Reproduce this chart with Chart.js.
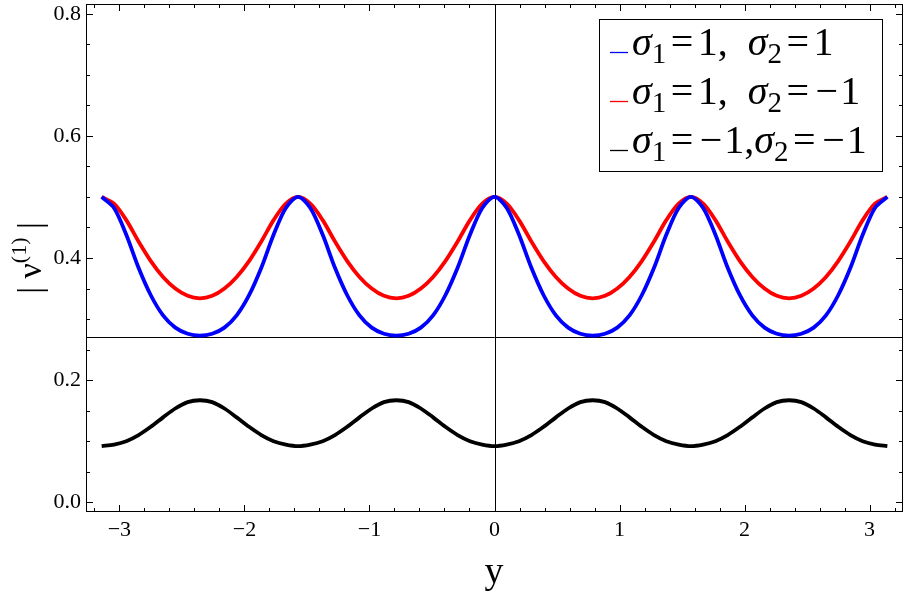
<!DOCTYPE html>
<html>
<head>
<meta charset="utf-8">
<script src="https://cdn.jsdelivr.net/npm/chart.js@4.4.0/dist/chart.umd.min.js"></script>
<style>
  body { margin: 0; background: #fff; }
  canvas { display: block; }
</style>
</head>
<body>
<canvas id="myChart" width="906" height="596"></canvas>
<script>
// sample points along y (steps of pi/32 from -pi to pi)
const yPoints = [-3.142, -3.043, -2.945, -2.847, -2.749, -2.651, -2.553, -2.454, -2.356, -2.258, -2.160, -2.062, -1.963, -1.865, -1.767, -1.669,
  -1.571, -1.473, -1.374, -1.276, -1.178, -1.080, -0.982, -0.884, -0.785, -0.687, -0.589, -0.491, -0.393, -0.295, -0.196, -0.098,
  0, 0.098, 0.196, 0.295, 0.393, 0.491, 0.589, 0.687, 0.785, 0.884, 0.982, 1.080, 1.178, 1.276, 1.374, 1.473,
  1.571, 1.669, 1.767, 1.865, 1.963, 2.062, 2.160, 2.258, 2.356, 2.454, 2.553, 2.651, 2.749, 2.847, 2.945, 3.043, 3.142];

// sigma1=1, sigma2=1 (blue)
const blueCurve = [0.5, 0.482, 0.438, 0.384, 0.339, 0.306, 0.286, 0.276, 0.273, 0.276, 0.286, 0.306, 0.339, 0.384, 0.438, 0.482,
  0.5, 0.482, 0.438, 0.384, 0.339, 0.306, 0.286, 0.276, 0.273, 0.276, 0.286, 0.306, 0.339, 0.384, 0.438, 0.482,
  0.5, 0.482, 0.438, 0.384, 0.339, 0.306, 0.286, 0.276, 0.273, 0.276, 0.286, 0.306, 0.339, 0.384, 0.438, 0.482,
  0.5, 0.482, 0.438, 0.384, 0.339, 0.306, 0.286, 0.276, 0.273, 0.276, 0.286, 0.306, 0.339, 0.384, 0.438, 0.482, 0.5];

// sigma1=1, sigma2=-1 (red)
const redCurve = [0.5, 0.489, 0.462, 0.427, 0.395, 0.369, 0.35, 0.338, 0.334, 0.338, 0.35, 0.369, 0.395, 0.427, 0.462, 0.489,
  0.5, 0.489, 0.462, 0.427, 0.395, 0.369, 0.35, 0.338, 0.334, 0.338, 0.35, 0.369, 0.395, 0.427, 0.462, 0.489,
  0.5, 0.489, 0.462, 0.427, 0.395, 0.369, 0.35, 0.338, 0.334, 0.338, 0.35, 0.369, 0.395, 0.427, 0.462, 0.489,
  0.5, 0.489, 0.462, 0.427, 0.395, 0.369, 0.35, 0.338, 0.334, 0.338, 0.35, 0.369, 0.395, 0.427, 0.462, 0.489, 0.5];

// sigma1=-1, sigma2=-1 (black)
const blackCurve = [0.092, 0.0945, 0.1, 0.11, 0.1235, 0.139, 0.1535, 0.164, 0.167, 0.164, 0.1535, 0.139, 0.1235, 0.11, 0.1, 0.0945,
  0.092, 0.0945, 0.1, 0.11, 0.1235, 0.139, 0.1535, 0.164, 0.167, 0.164, 0.1535, 0.139, 0.1235, 0.11, 0.1, 0.0945,
  0.092, 0.0945, 0.1, 0.11, 0.1235, 0.139, 0.1535, 0.164, 0.167, 0.164, 0.1535, 0.139, 0.1235, 0.11, 0.1, 0.0945,
  0.092, 0.0945, 0.1, 0.11, 0.1235, 0.139, 0.1535, 0.164, 0.167, 0.164, 0.1535, 0.139, 0.1235, 0.11, 0.1, 0.0945, 0.092];

const xTicks = [-3, -2, -1, 0, 1, 2, 3];
const yTicks = [0, 0.2, 0.4, 0.6, 0.8];
const axesOrigin = [0, 0.27];
const legendLabels = ['σ_1=1,  σ_2=1', 'σ_1=1,  σ_2=−1', 'σ_1=−1,σ_2=−1'];
const colors = ['#0000ff', '#ff0000', '#000000'];

const serif = '"Liberation Serif", "Times New Roman", serif';

function toPoints(values) {
  return yPoints.map((x, i) => ({x: x, y: values[i]}));
}

// draws "σ_1=1" style text with subscripts and padded operators, returns end x
function drawSubText(ctx, text, x, y, size) {
  let parts = text.split(/(_\d)/);
  parts.forEach((p) => {
    if (!p) return;
    if (p[0] === '_') {
      ctx.font = Math.round(size * 0.72) + 'px ' + serif;
      ctx.fillText(p[1], x, y + size * 0.2);
      x += ctx.measureText(p[1]).width;
    } else {
      for (const ch of p) {
        ctx.font = (ch === 'σ' ? 'italic ' : '') + size + 'px ' + serif;
        let pad = ch === '=' ? 4.5 : (ch === '−' ? 2 : 0);
        x += pad;
        ctx.fillText(ch, x, y);
        x += ctx.measureText(ch).width + pad;
      }
    }
  });
  return x;
}

const framePlugin = {
  id: 'framePlugin',
  beforeDraw(chart) {
    const ctx = chart.ctx;
    ctx.save();
    ctx.fillStyle = '#fff';
    ctx.fillRect(0, 0, chart.width, chart.height);
    ctx.restore();
  },
  beforeDatasetsDraw(chart) {
    const {ctx, chartArea: a, scales: {x, y}} = chart;
    ctx.save();
    ctx.strokeStyle = '#000';
    ctx.lineWidth = 1;
    const ox = Math.round(x.getPixelForValue(axesOrigin[0])) + 0.5;
    const oy = Math.round(y.getPixelForValue(axesOrigin[1])) + 0.5;
    ctx.beginPath();
    ctx.moveTo(ox, a.top); ctx.lineTo(ox, a.bottom);
    ctx.moveTo(a.left, oy); ctx.lineTo(a.right, oy);
    ctx.stroke();
    ctx.restore();
  },
  afterDatasetsDraw(chart) {
    const {ctx, chartArea: a, scales: {x, y}} = chart;
    ctx.save();
    ctx.strokeStyle = '#000';
    ctx.lineWidth = 1;
    ctx.strokeRect(a.left + 0.5, a.top + 0.5, a.right - a.left - 1, a.bottom - a.top - 1);

    // ticks on all four sides, pointing in
    ctx.beginPath();
    for (let i = -16; i <= 16; i++) {
      const px = Math.round(x.getPixelForValue(i * 0.2)) + 0.5;
      const len = i % 5 === 0 ? 7 : 4;
      ctx.moveTo(px, a.bottom); ctx.lineTo(px, a.bottom - len);
      ctx.moveTo(px, a.top); ctx.lineTo(px, a.top + len);
    }
    for (let i = 0; i <= 16; i++) {
      const py = Math.round(y.getPixelForValue(i * 0.05)) + 0.5;
      const len = i % 4 === 0 ? 7 : 4;
      ctx.moveTo(a.left, py); ctx.lineTo(a.left + len, py);
      ctx.moveTo(a.right, py); ctx.lineTo(a.right - len, py);
    }
    ctx.stroke();

    // legend box
    const bx = 599, by = 19, bw = 283, bh = 152;
    ctx.fillStyle = '#fff';
    ctx.fillRect(bx, by, bw, bh);
    ctx.strokeRect(bx + 0.5, by + 0.5, bw, bh);
    ctx.textBaseline = 'alphabetic';
    ctx.textAlign = 'left';
    legendLabels.forEach((label, i) => {
      const base = 55 + i * 49;
      ctx.strokeStyle = colors[i];
      ctx.lineWidth = 1.3;
      ctx.beginPath();
      ctx.moveTo(610, base - 2.5); ctx.lineTo(628, base - 2.5);
      ctx.stroke();
      ctx.fillStyle = '#000';
      drawSubText(ctx, label, 632, base, 40);
    });

    // axis titles
    ctx.fillStyle = '#000';
    ctx.font = '38px ' + serif;
    ctx.textAlign = 'center';
    ctx.fillText('y', 494, 583);

    ctx.translate(41, 258);
    ctx.rotate(-Math.PI / 2);
    ctx.textAlign = 'left';
    ctx.font = '34px ' + serif;
    const w1 = ctx.measureText('| ν').width;
    ctx.font = '22px ' + serif;
    const w2 = ctx.measureText('(1)').width;
    ctx.font = '34px ' + serif;
    const w3 = ctx.measureText(' |').width;
    let tx = -(w1 + w2 + w3) / 2;
    ctx.fillText('| ν', tx, 0);
    ctx.font = '22px ' + serif;
    ctx.fillText('(1)', tx + w1, -15);
    ctx.font = '34px ' + serif;
    ctx.fillText(' |', tx + w1 + w2, 0);
    ctx.restore();
  }
};

const ctx = document.getElementById('myChart').getContext('2d');
const myChart = new Chart(ctx, {
  type: 'line',
  data: {
    datasets: legendLabels.map((label, i) => ({
      label: label,
      data: toPoints([blueCurve, redCurve, blackCurve][i]),
      borderColor: colors[i],
      borderWidth: 3.8,
      pointRadius: 0,
      tension: 0.3,
      fill: false
    }))
  },
  options: {
    responsive: false,
    animation: false,
    devicePixelRatio: 1,
    layout: {padding: {top: 4, right: 3, left: 0, bottom: 0}},
    plugins: {legend: {display: false}, tooltip: {enabled: false}},
    scales: {
      x: {
        type: 'linear',
        min: -3.2673,
        max: 3.2673,
        grid: {display: false, drawTicks: false},
        border: {display: false},
        afterBuildTicks: (s) => { s.ticks = xTicks.map((v) => ({value: v})); },
        afterFit: (s) => { s.height = 84; s.paddingLeft = 0; s.paddingRight = 0; },
        ticks: {
          font: {family: serif, size: 22},
          color: '#000',
          padding: 5,
          maxRotation: 0,
          callback: (v) => String(v).replace('-', '\u2212')
        }
      },
      y: {
        type: 'linear',
        min: -0.016,
        max: 0.816,
        grid: {display: false, drawTicks: false},
        border: {display: false},
        afterBuildTicks: (s) => { s.ticks = yTicks.map((v) => ({value: v})); },
        afterFit: (s) => { s.width = 86; s.paddingTop = 0; s.paddingBottom = 0; },
        ticks: {
          font: {family: serif, size: 22},
          color: '#000',
          padding: 5,
          callback: (v) => v.toFixed(1)
        }
      }
    }
  },
  plugins: [framePlugin]
});
</script>
</body>
</html>
